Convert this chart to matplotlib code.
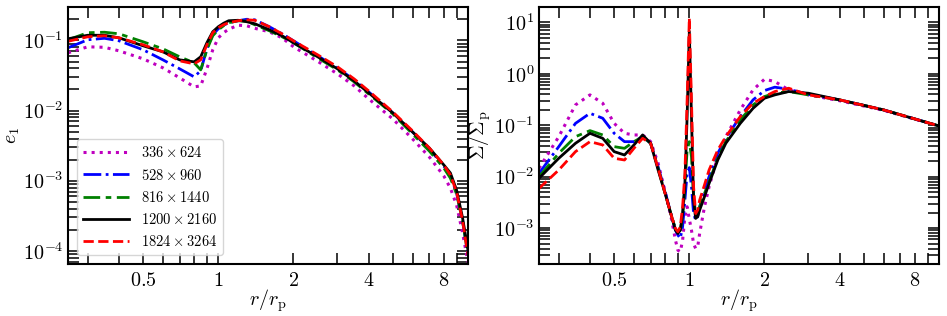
import numpy as np
import matplotlib
matplotlib.use("Agg")
import matplotlib.pyplot as plt
from matplotlib.ticker import FixedLocator, NullFormatter, LogLocator, FuncFormatter

plt.rcParams['mathtext.fontset'] = 'cm'

# resoluciones (leyenda)
etiquetas = [r'$336\times624$', r'$528\times960$', r'$816\times1440$',
             r'$1200\times2160$', r'$1824\times3264$']

# ---- panel izquierdo: e_1 ----
r_e = [0.25, 0.3, 0.35, 0.4, 0.5, 0.6, 0.7, 0.8, 0.85, 0.9, 0.95, 1.0, 1.05, 1.1,
       1.2, 1.3, 1.4, 1.6, 1.8, 2.0, 2.5, 3.0, 3.5, 4.0, 5.0, 6.0, 7.0, 8.0, 8.5,
       9.0, 9.5, 10.0]
e_336 = [0.0667, 0.0812, 0.0799, 0.0712, 0.0547, 0.0407, 0.0293, 0.0218, 0.0225,
         0.0394, 0.0736, 0.109, 0.129, 0.1445, 0.165, 0.162, 0.149, 0.133, 0.109,
         0.0812, 0.0504, 0.0334, 0.0225, 0.0147, 0.0076, 0.00394, 0.00218, 0.00117,
         7.85e-4, 4.49e-4, 1.85e-4, 6.9e-5]
e_528 = [0.0786, 0.1023, 0.1074, 0.0989, 0.0736, 0.0529, 0.0394, 0.0303, 0.0369,
         0.076, 0.1205, 0.147, 0.165, 0.179, 0.191, 0.2005, 0.197, 0.157, 0.1245,
         0.0989, 0.0604, 0.0407, 0.0274, 0.0185, 0.00927, 0.00495, 0.00283, 0.00162,
         0.00117, 6.67e-4, 2.74e-4, 8.7e-5]
e_816 = [0.1023, 0.129, 0.131, 0.1245, 0.0957, 0.076, 0.0585, 0.048, 0.0381,
         0.0736, 0.1167, 0.142, 0.162, 0.179, 0.191, 0.188, 0.1675, 0.1375, 0.1128,
         0.0927, 0.0565, 0.0381, 0.0257, 0.0173, 0.00896, 0.00464, 0.00265, 0.00152,
         0.00109, 6.45e-4, 2.74e-4, 8.7e-5]
e_1200 = [0.1057, 0.1186, 0.1186, 0.109, 0.0839, 0.0689, 0.0529, 0.0496, 0.0585,
          0.0927, 0.133, 0.157, 0.176, 0.191, 0.194, 0.185, 0.173, 0.142, 0.1167,
          0.0927, 0.0585, 0.0394, 0.0265, 0.0179, 0.00927, 0.00495, 0.00293, 0.00168,
          0.00129, 7.36e-4, 3.03e-4, 1.02e-4]
e_1824 = [0.0973, 0.1128, 0.1167, 0.109, 0.0867, 0.0689, 0.0512, 0.0464, 0.0529,
          0.0867, 0.129, 0.152, 0.1675, 0.179, 0.191, 0.197, 0.194, 0.157, 0.1245,
          0.0989, 0.0624, 0.0421, 0.0283, 0.0191, 0.00957, 0.00513, 0.00293, 0.00168,
          0.00121, 6.89e-4, 2.74e-4, 8.7e-5]

# ---- panel derecho: Sigma/Sigma_p ----
r_s = [0.25, 0.3, 0.35, 0.4, 0.45, 0.5, 0.55, 0.6, 0.65, 0.7, 0.75, 0.8, 0.85, 0.88,
       0.9, 0.92, 0.94, 0.96, 0.98, 1.0, 1.02, 1.04, 1.06, 1.08, 1.1, 1.15, 1.2, 1.3,
       1.4, 1.6, 1.8, 2.0, 2.2, 2.5, 3.0, 4.0, 6.0, 10.0]
s_336 = [0.0145, 0.060, 0.249, 0.39, 0.268, 0.109, 0.0698, 0.0648, 0.0648, 0.048,
         0.0182, 5.1e-3, 1.43e-3, 5.8e-4, 3.7e-4, 3.45e-4, 5.8e-4, 1.66e-3, 2.6e-3,
         1.5e-3, 9.1e-4, 5.0e-4, 4.0e-4, 4.3e-4, 7.85e-4, 2.6e-3, 6.4e-3, 0.0245,
         0.060, 0.199, 0.489, 0.787, 0.71, 0.489, 0.39, 0.30, 0.195, 0.097]
s_528 = [0.0116, 0.0384, 0.109, 0.171, 0.137, 0.0698, 0.048, 0.048, 0.060, 0.0446,
         0.0156, 5.1e-3, 1.66e-3, 9.1e-4, 7.3e-4, 6.3e-4, 1.06e-3, 3.5e-3, 0.0116,
         0.015, 6.4e-3, 1.92e-3, 1.43e-3, 1.66e-3, 2.6e-3, 5.5e-3, 0.01, 0.0285,
         0.0557, 0.148, 0.312, 0.474, 0.551, 0.503, 0.40, 0.312, 0.199, 0.097]
s_816 = [0.01, 0.0285, 0.060, 0.0787, 0.0648, 0.0384, 0.0356, 0.048, 0.060, 0.0446,
         0.0145, 4.72e-3, 1.66e-3, 9.8e-4, 8.5e-4, 9.1e-4, 1.66e-3, 6.4e-3, 0.033,
         0.048, 0.0245, 4.07e-3, 1.92e-3, 1.92e-3, 2.6e-3, 4.72e-3, 7.97e-3, 0.0228,
         0.048, 0.127, 0.249, 0.362, 0.42, 0.453, 0.39, 0.312, 0.199, 0.097]
s_1200 = [9.3e-3, 0.0228, 0.0446, 0.0698, 0.0557, 0.0307, 0.0264, 0.0414, 0.0648,
          0.0446, 0.01346, 4.72e-3, 1.66e-3, 9.1e-4, 7.85e-4, 9.1e-4, 1.92e-3, 7.4e-3,
          0.148, 6.7, 0.148, 3.5e-3, 1.54e-3, 1.66e-3, 2.24e-3, 4.07e-3, 7.4e-3, 0.0211,
          0.0446, 0.109, 0.214, 0.336, 0.39, 0.453, 0.42, 0.312, 0.199, 0.097]
s_1824 = [5.9e-3, 0.0135, 0.0307, 0.048, 0.0414, 0.0228, 0.0211, 0.0356, 0.0557,
          0.0446, 0.0145, 4.72e-3, 1.66e-3, 9.8e-4, 8.5e-4, 1.06e-3, 2.6e-3, 0.0116,
          0.312, 12.2, 0.312, 6.4e-3, 1.92e-3, 2.24e-3, 3.5e-3, 6.9e-3, 0.0135, 0.033,
          0.060, 0.148, 0.268, 0.362, 0.453, 0.526, 0.39, 0.312, 0.199, 0.097]

x_mayores = [0.5, 1, 2, 4, 8]
x_menores = [0.3, 0.4, 0.6, 0.7, 0.8, 0.9, 3, 5, 6, 7, 9]

estilos = [dict(color='m', ls=':', lw=2.2),
           dict(color='b', ls='-.', lw=2.0),
           dict(color='g', dashes=(6, 2, 2, 2), lw=2.0),
           dict(color='k', ls='-', lw=2.0),
           dict(color='r', ls='--', lw=2.0)]


def formato_ejes(ax):
    ax.set_xscale('log')
    ax.set_yscale('log')
    ax.set_xlim(0.25, 10)
    ax.xaxis.set_major_locator(FixedLocator(x_mayores))
    ax.xaxis.set_minor_locator(FixedLocator(x_menores))
    ax.xaxis.set_major_formatter(FuncFormatter(lambda v, p: r'$%g$' % v))
    ax.xaxis.set_minor_formatter(NullFormatter())
    ax.yaxis.set_major_locator(LogLocator(base=10, numticks=20))
    ax.yaxis.set_minor_locator(LogLocator(base=10, subs=np.arange(2, 10), numticks=20))
    ax.yaxis.set_major_formatter(FuncFormatter(lambda v, p: r'$10^{%d}$' % round(np.log10(v))))
    ax.yaxis.set_minor_formatter(NullFormatter())
    ax.tick_params(which='both', direction='in', top=True, right=True,
                   length=7.8, width=1.1, labelsize=14.5)
    ax.tick_params(axis='x', pad=5)
    for s in ax.spines.values():
        s.set_linewidth(1.5)
    ax.set_xlabel(r'$r/r_{\rm p}$', fontsize=14.5)
    ax.xaxis.set_label_coords(0.5, -0.09)


fig = plt.figure(figsize=(9.47, 3.16), dpi=100)
ax1 = fig.add_axes([68 / 947, 1 - 264 / 316, 400 / 947, 257 / 316])
ax2 = fig.add_axes([539 / 947, 1 - 264 / 316, 400 / 947, 257 / 316])

for datos, est, lab in zip([e_336, e_528, e_816, e_1200, e_1824], estilos, etiquetas):
    ax1.plot(r_e, datos, label=lab, **est)
for datos, est in zip([s_336, s_528, s_816, s_1200, s_1824], estilos):
    ax2.plot(r_s, datos, **est)

formato_ejes(ax1)
formato_ejes(ax2)
ax1.set_ylim(6.5e-5, 0.3)
ax2.set_ylim(2e-4, 20)
ax1.set_ylabel(r'$e_1$', fontsize=14.5)
ax1.yaxis.set_label_coords(-0.115, 0.5)
ax2.set_ylabel(r'$\Sigma/\Sigma_{\rm p}$', fontsize=14.5)
ax2.yaxis.set_label_coords(-0.115, 0.5)

ax1.legend(loc='lower left', fontsize=10.5, handlelength=3.2, borderaxespad=0.6)

fig.savefig('out.png', dpi=100)
